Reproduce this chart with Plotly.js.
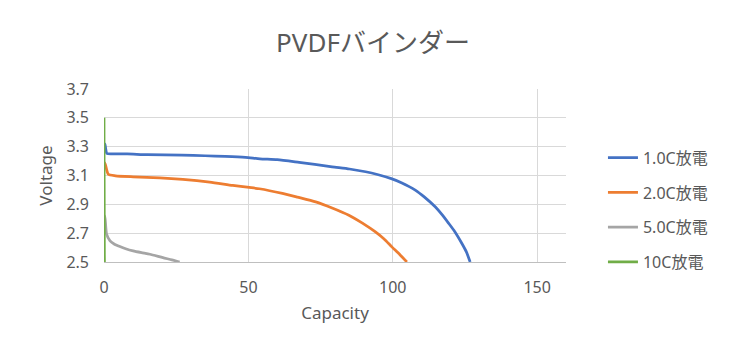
<!DOCTYPE html>
<html>
<head>
<meta charset="utf-8">
<script src="https://cdn.plot.ly/plotly-3.0.1.min.js"></script>
<style>
html,body{margin:0;padding:0;background:#fff;}
#chart{width:746px;height:356px;}
</style>
</head>
<body>
<div id="chart"></div>
<script>
// Series: 1.0C discharge
const cap1 = [0, 0.3, 1, 3, 8, 15, 27, 35, 42, 49, 54, 60, 67.6, 73, 79, 85, 90.6, 95, 99.5, 103, 107.8, 111, 114.7, 117, 119.3, 121.5, 123.9, 125.5, 126.8];
const v1   = [3.30, 3.32, 3.253, 3.25, 3.25, 3.244, 3.242, 3.237, 3.233, 3.226, 3.216, 3.21, 3.191, 3.177, 3.16, 3.145, 3.126, 3.105, 3.078, 3.05, 2.999, 2.95, 2.883, 2.83, 2.77, 2.71, 2.63, 2.57, 2.50];
// Series: 2.0C discharge
const cap2 = [0, 0.3, 1.5, 4, 10.1, 19.3, 27.3, 36.6, 44.6, 50.3, 53.8, 61.8, 67, 73.3, 79, 84.8, 89.5, 94, 97, 99.7, 102.5, 104.9];
const v2   = [3.15, 3.188, 3.108, 3.098, 3.091, 3.084, 3.073, 3.054, 3.031, 3.017, 3.008, 2.976, 2.95, 2.917, 2.875, 2.825, 2.77, 2.709, 2.66, 2.605, 2.55, 2.50];
// Series: 5.0C discharge
const cap5 = [0, 0.3, 0.9, 2.1, 3.5, 5.5, 7.5, 10.1, 13, 15.9, 20.4, 23.5, 26.2];
const v5   = [2.78, 2.82, 2.693, 2.646, 2.625, 2.607, 2.592, 2.577, 2.565, 2.554, 2.53, 2.515, 2.50];
// Series: 10C discharge
const cap10 = [0, 0.02, 0.05, 0.08, 0.1, 0.12, 0.15];
const v10   = [3.50, 3.30, 3.10, 2.90, 2.70, 2.55, 2.50];

const seriesNames = ['1.0C放電', '2.0C放電', '5.0C放電', '10C放電'];
const seriesColors = ['#4472C4', '#ED7D31', '#A5A5A5', '#70AD47'];
const xs = [cap1, cap2, cap5, cap10];
const ys = [v1, v2, v5, v10];

const yTicks = [2.5, 2.7, 2.9, 3.1, 3.3, 3.5, 3.7];
const yTickText = ['2.5', '2.7', '2.9', '3.1', '3.3', '3.5', '3.7'];
const xTicks = [0, 50, 100, 150];

const FONT = 'Noto Sans, Noto Sans CJK JP, sans-serif';
const traces = xs.map((x, i) => ({
  x: x, y: ys[i], name: seriesNames[i], type: 'scatter', mode: 'lines',
  legendgroup: 'g' + i,
  line: {color: seriesColors[i], width: 2.75, shape: 'spline', smoothing: 0.6},
  cliponaxis: true
}));

const layout = {
  width: 746, height: 356,
  margin: {l: 103.5, r: 179.5, t: 89, b: 94},
  paper_bgcolor: '#fff', plot_bgcolor: '#fff',
  font: {family: FONT, color: '#595959', size: 16},
  title: {text: 'PVDFバインダー', font: {size: 26, color: '#595959', family: FONT}, x: 0.5, xanchor: 'center', y: 0.88, yanchor: 'middle'},
  xaxis: {
    range: [0, 160], tickvals: xTicks, ticks: '', showgrid: true, gridcolor: '#d9d9d9', gridwidth: 1,
    zeroline: false, showline: true, linecolor: '#bfbfbf', linewidth: 1,
    tickfont: {size: 16, color: '#595959'}, ticklabelstandoff: 11,
    title: {text: 'Capacity', font: {size: 17, color: '#595959'}, standoff: 9}
  },
  yaxis: {
    range: [2.5, 3.7], tickvals: yTicks, ticktext: yTickText, ticks: '', showgrid: true, gridcolor: '#d9d9d9', gridwidth: 1,
    zeroline: false, showline: false,
    tickfont: {size: 16, color: '#595959'}, ticklabelstandoff: 14,
    title: {text: 'Voltage', font: {size: 17, color: '#595959'}, standoff: 9}
  },
  legend: {
    x: 1.08, xanchor: 'left', y: 0.30, yanchor: 'middle',
    font: {size: 16, color: '#595959'}, tracegroupgap: 11,
    bgcolor: 'rgba(0,0,0,0)'
  },
  showlegend: true
};

Plotly.newPlot('chart', traces, layout, {displayModeBar: false, staticPlot: true});
</script>
</body>
</html>
